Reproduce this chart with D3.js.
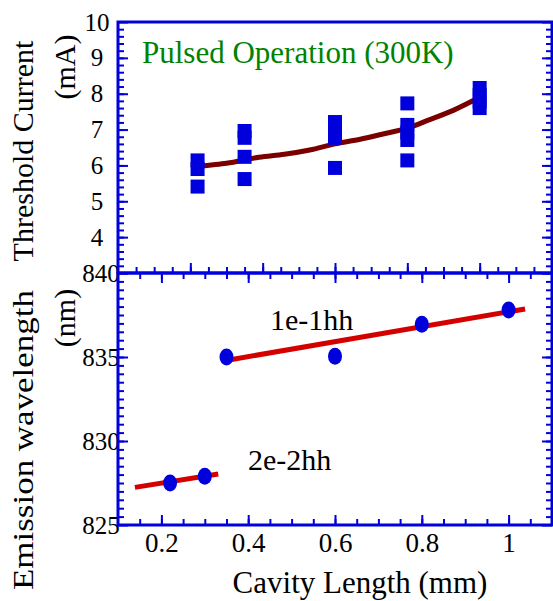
<!DOCTYPE html>
<html>
<head>
<meta charset="utf-8">
<script src="https://cdn.jsdelivr.net/npm/d3@7/dist/d3.min.js"></script>
</head>
<body style="margin:0">
<svg id="chart" width="553" height="601"></svg>
<script>
// Threshold current (upper panel), every measured device
const thrLength  = [0.22, 0.22, 0.22,
                    0.35, 0.35, 0.35, 0.35,
                    0.60, 0.60, 0.60, 0.60,
                    0.80, 0.80, 0.80, 0.80, 0.80,
                    1.00, 1.00, 1.00, 1.00];
const thrCurrent = [6.14, 5.90, 5.41,
                    6.96, 6.77, 6.24, 5.62,
                    7.21, 6.99, 6.77, 5.93,
                    7.73, 7.13, 6.92, 6.71, 6.14,
                    8.16, 7.96, 7.78, 7.60];

// Fitted threshold trend
const fitLength  = [0.22, 0.24, 0.30, 0.39, 0.46, 0.53, 0.60, 0.67, 0.73, 0.80, 0.86, 0.93, 1.00];
const fitCurrent = [5.96, 5.99, 6.06, 6.23, 6.31, 6.43, 6.60, 6.73, 6.87, 7.04, 7.27, 7.55, 7.90];

// Emission wavelength (lower panel)
const wlLength = [0.22, 0.30, 0.35, 0.60, 0.80, 1.00];
const wlValue  = [827.5, 827.9, 835.0, 835.05, 836.95, 837.8];

// Linear trends for the two transitions
const line1Length = [0.346, 1.038];
const line1Value  = [834.78, 837.86];
const line2Length = [0.139, 0.331];
const line2Value  = [827.24, 828.04];

// Axis ticks
const topYTicks   = [3, 4, 5, 6, 7, 8, 9, 10];
const topYLabels  = [4, 5, 6, 7, 8, 9, 10];
const botYTicks   = [825, 830, 835, 840];
const xLabels     = [0.2, 0.4, 0.6, 0.8, 1.0];

const BLUE = "#0000dd";
const SERIF = "Liberation Serif";
const svg = d3.select("#chart");

const left = 118, right = 552;
const topY0 = 22, midY = 273, botY1 = 525;

// Scales
const xTop = d3.scaleLinear().domain([0, 1.2]).range([left, right]);
const yTop = d3.scaleLinear().domain([3, 10]).range([midY, topY0]);
const xBot = d3.scaleLinear().domain([0.1, 1.1]).range([left, right]);
const yBot = d3.scaleLinear().domain([825, 840]).range([botY1, midY]);

function serifText(sel, size) {
  return sel.attr("font-family", SERIF).attr("font-size", size)
    .style("font-family", SERIF).style("font-size", size + "px").attr("fill", "#000");
}

function addAxis(axis, transform, withText) {
  const g = svg.append("g").attr("transform", transform).call(axis);
  g.attr("font-family", SERIF);
  g.select(".domain").remove();
  g.selectAll(".tick line").attr("stroke", BLUE).attr("stroke-width", 2);
  if (!withText) g.selectAll("text").remove();
  return g;
}

function range(a, b, s) {
  const out = [];
  for (let v = a; v <= b + s / 2; v += s) out.push(+v.toFixed(4));
  return out;
}

// ---------- Upper panel axes ----------
const topXMinor = range(0.05, 1.15, 0.05);
const topXMajor = [0.2, 0.4, 0.6, 0.8, 1.0];
addAxis(d3.axisBottom(xTop).tickValues(topXMinor).tickSize(-6), `translate(0,${midY})`, false);
addAxis(d3.axisBottom(xTop).tickValues(topXMajor).tickSize(-10), `translate(0,${midY})`, false);

const topYMinor = range(3.2, 9.8, 0.2);
addAxis(d3.axisLeft(yTop).tickValues(topYMinor).tickSize(-6), `translate(${left},0)`, false);
addAxis(d3.axisRight(yTop).tickValues(topYMinor).tickSize(-6), `translate(${right},0)`, false);
addAxis(d3.axisRight(yTop).tickValues(topYTicks).tickSize(-10), `translate(${right},0)`, false);
const gTopLeft = addAxis(d3.axisLeft(yTop).tickValues(topYTicks).tickSize(-10)
    .tickFormat(d => topYLabels.includes(d) ? d3.format("d")(d) : ""), `translate(${left},0)`, true);
serifText(gTopLeft.selectAll("text"), 25)
  .attr("x", 97 - left).attr("text-anchor", "middle");

// ---------- Lower panel axes ----------
const botXMinor = range(0.15, 1.05, 0.05);
addAxis(d3.axisBottom(xBot).tickValues(botXMinor).tickSize(-6), `translate(0,${botY1})`, false);
addAxis(d3.axisTop(xBot).tickValues(botXMinor).tickSize(-6), `translate(0,${midY})`, false);
addAxis(d3.axisTop(xBot).tickValues(xLabels).tickSize(-10), `translate(0,${midY})`, false);
const gBotX = addAxis(d3.axisBottom(xBot).tickValues(xLabels).tickSize(-10)
    .tickFormat(d => d === 1 ? "1" : d3.format(".1f")(d)), `translate(0,${botY1})`, true);
serifText(gBotX.selectAll("text"), 27)
  .attr("y", 27).attr("dy", 0);

const botYMinor = range(825.5, 839.5, 0.5);
addAxis(d3.axisLeft(yBot).tickValues(botYMinor).tickSize(-6), `translate(${left},0)`, false);
addAxis(d3.axisRight(yBot).tickValues(botYMinor).tickSize(-6), `translate(${right},0)`, false);
addAxis(d3.axisRight(yBot).tickValues(botYTicks).tickSize(-10), `translate(${right},0)`, false);
const gBotLeft = addAxis(d3.axisLeft(yBot).tickValues(botYTicks).tickSize(-10), `translate(${left},0)`, true);
serifText(gBotLeft.selectAll("text"), 25)
  .attr("x", 101 - left).attr("text-anchor", "middle");

// ---------- Frames ----------
svg.append("rect").attr("x", left).attr("y", topY0)
  .attr("width", right - left).attr("height", midY - topY0)
  .attr("fill", "none").attr("stroke", BLUE).attr("stroke-width", 3);
svg.append("rect").attr("x", left).attr("y", midY)
  .attr("width", right - left).attr("height", botY1 - midY)
  .attr("fill", "none").attr("stroke", BLUE).attr("stroke-width", 3);

// ---------- Upper panel data ----------
const fitLine = d3.line()
  .x((d, i) => xTop(fitLength[i]))
  .y((d, i) => yTop(fitCurrent[i]))
  .curve(d3.curveMonotoneX);
svg.append("path").datum(fitLength)
  .attr("d", fitLine)
  .attr("fill", "none").attr("stroke", "#7a0000").attr("stroke-width", 5);

const sq = 14;
svg.append("g").selectAll("rect")
  .data(thrLength.map((L, i) => ({ L, v: thrCurrent[i] })))
  .join("rect")
  .attr("x", d => xTop(d.L) - sq / 2)
  .attr("y", d => yTop(d.v) - sq / 2)
  .attr("width", sq).attr("height", sq)
  .attr("fill", BLUE);

serifText(svg.append("text").text("Pulsed Operation (300K)"), 31)
  .attr("x", 142).attr("y", 63).attr("fill", "#008200");

// ---------- Lower panel data ----------
const trend = d3.line().x(d => xBot(d[0])).y(d => yBot(d[1]));
[[line1Length, line1Value], [line2Length, line2Value]].forEach(([Ls, Vs]) => {
  svg.append("path").datum(Ls.map((L, i) => [L, Vs[i]]))
    .attr("d", trend)
    .attr("fill", "none").attr("stroke", "#d40000").attr("stroke-width", 5);
});

svg.append("g").selectAll("ellipse")
  .data(wlLength.map((L, i) => ({ L, v: wlValue[i] })))
  .join("ellipse")
  .attr("cx", d => xBot(d.L)).attr("cy", d => yBot(d.v))
  .attr("rx", 7).attr("ry", 8.5)
  .attr("fill", BLUE);

serifText(svg.append("text").text("1e-1hh"), 30).attr("x", 270).attr("y", 330);
serifText(svg.append("text").text("2e-2hh"), 30).attr("x", 248).attr("y", 470);

// ---------- Axis titles ----------
serifText(svg.append("text").text("Cavity Length (mm)"), 31)
  .attr("x", 360).attr("y", 593).attr("text-anchor", "middle");

function yTitle(txt, cx, cy, size) {
  return serifText(svg.append("text").text(txt), size)
    .attr("transform", `translate(${cx},${cy}) rotate(-90)`)
    .attr("text-anchor", "middle");
}
yTitle("Threshold Current", 33, 151, 30);
yTitle("(mA)", 75, 67, 30);
yTitle("Emission wavelength", 33, 440, 30)
  .attr("textLength", 300).attr("lengthAdjust", "spacingAndGlyphs");
yTitle("(nm)", 75, 318, 30);
</script>
</body>
</html>
